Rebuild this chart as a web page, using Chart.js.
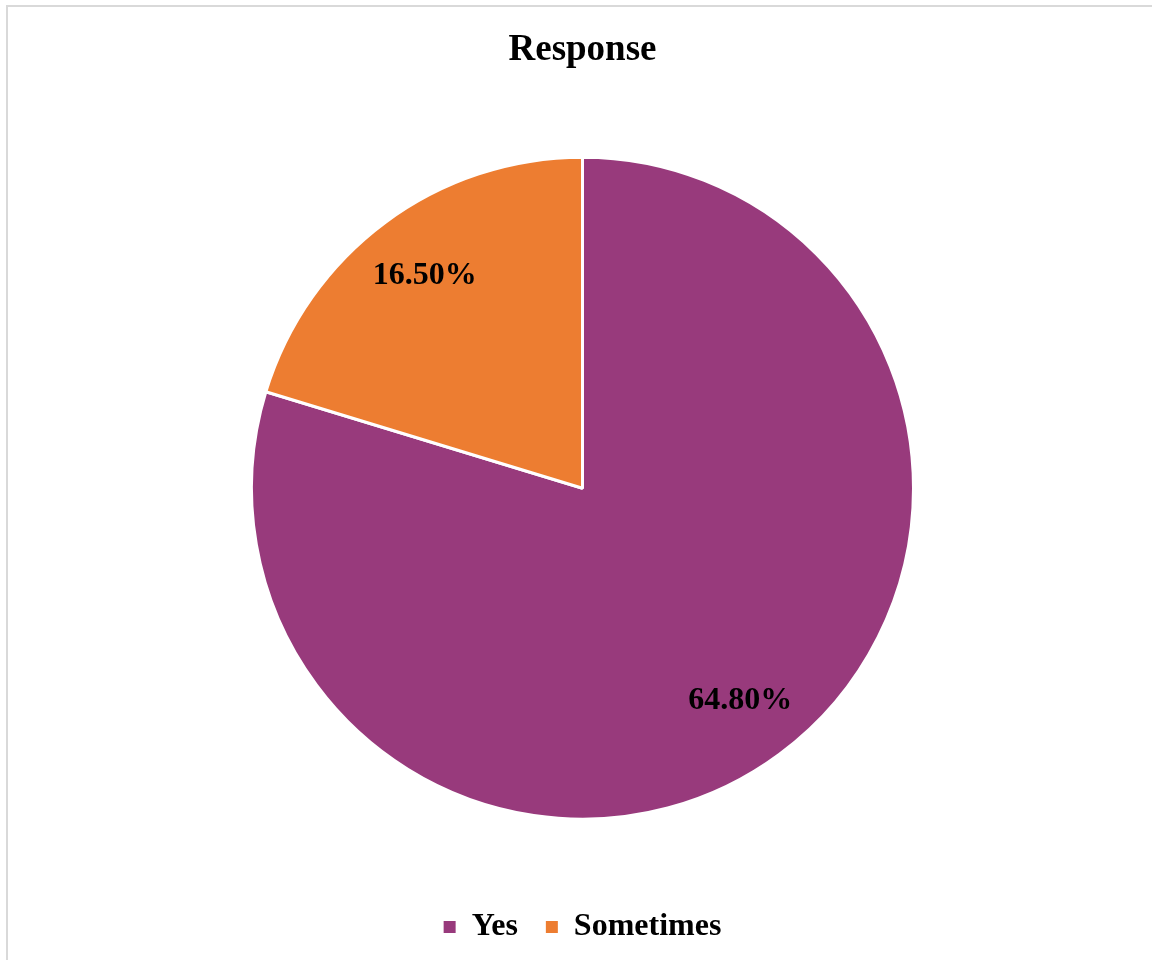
<!DOCTYPE html>
<html>
<head>
<meta charset="utf-8">
<title>Response</title>
<script src="https://cdn.jsdelivr.net/npm/chart.js@4"></script>
<style>
    body { margin: 0; background: #fff; overflow: hidden; }
    .frame {
        position: absolute; left: 6px; top: 5px;
        width: 1200px; height: 1000px;
        border-top: 2px solid #d9d9d9;
        border-left: 2px solid #d9d9d9;
    }
    #responseChart { position: absolute; left: 0; top: 0; }
</style>
</head>
<body>
<div class="frame"></div>
<canvas id="responseChart" width="1152" height="960"></canvas>
<script>
const labels = ['Yes', 'Sometimes'];
const percents = [64.80, 16.50];
const colors = ['#983A7C', '#ED7D31'];

const serif = '"Liberation Serif", "Times New Roman", serif';

// writes each slice's percent inside the slice
const sliceLabels = {
    id: 'sliceLabels',
    afterDatasetsDraw(chart) {
        const ctx = chart.ctx;
        const meta = chart.getDatasetMeta(0);
        ctx.save();
        ctx.font = 'bold 32px ' + serif;
        ctx.fillStyle = '#000';
        ctx.textAlign = 'center';
        ctx.textBaseline = 'middle';
        meta.data.forEach((arc, i) => {
            const p = arc.getProps(['x', 'y', 'startAngle', 'endAngle', 'outerRadius'], true);
            const mid = (p.startAngle + p.endAngle) / 2;
            const r = p.outerRadius * 0.8;
            ctx.fillText(percents[i].toFixed(2) + '%', p.x + Math.cos(mid) * r, p.y + Math.sin(mid) * r);
        });
        ctx.restore();
    }
};

new Chart(document.getElementById('responseChart'), {
    type: 'pie',
    data: {
        labels: labels,
        datasets: [{
            data: percents,
            backgroundColor: colors,
            borderColor: '#ffffff',
            borderWidth: 3
        }]
    },
    options: {
        responsive: false,
        animation: false,
        layout: {
            padding: { left: 250, right: 237, top: 0, bottom: 7 }
        },
        plugins: {
            title: {
                display: true,
                text: 'Response',
                color: '#000',
                font: { family: serif, size: 37, weight: 'bold' },
                padding: { top: 28, bottom: 21 }
            },
            legend: {
                position: 'bottom',
                labels: {
                    color: '#000',
                    font: { family: serif, size: 32, weight: 'bold' },
                    boxWidth: 12,
                    boxHeight: 12,
                    padding: 28,
                    // plain filled squares, no white outline
                    generateLabels(chart) {
                        return Chart.overrides.pie.plugins.legend.labels.generateLabels(chart)
                            .map(item => Object.assign(item, { lineWidth: 0 }));
                    }
                }
            },
            tooltip: { enabled: false }
        }
    },
    plugins: [sliceLabels]
});
</script>
</body>
</html>
